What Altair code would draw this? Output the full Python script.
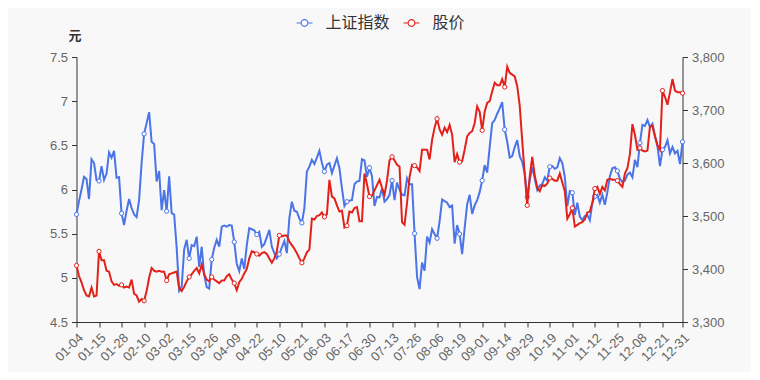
import altair as alt
import pandas as pd

BLUE = "#4a74e8"
RED = "#e2211b"
BG = "#f8f8f8"

series_names = ["上证指数", "股价"]

tick_labels = ["01-04", "01-15", "01-28", "02-10", "03-02", "03-15", "03-26", "04-09",
               "04-22", "05-10", "05-21", "06-03", "06-17", "06-30", "07-13", "07-26",
               "08-06", "08-19", "09-01", "09-14", "09-29", "10-19", "11-01", "11-12",
               "11-25", "12-08", "12-21", "12-31"]
tick_pos = [0, 9, 18, 27, 36, 45, 54, 63, 72, 81, 90, 99, 108, 117, 126, 135, 144,
            153, 162, 171, 180, 189, 198, 207, 216, 225, 234, 242]

sse = [
    3503, 3528, 3550, 3574, 3570, 3532, 3607, 3600, 3568, 3566,
    3594, 3568, 3580, 3620, 3610, 3623, 3572, 3573, 3505, 3483,
    3510, 3532, 3515, 3503, 3498, 3530, 3600, 3655, 3675, 3696,
    3640, 3636, 3565, 3585, 3511, 3549, 3509, 3575, 3505, 3503,
    3440, 3359, 3367, 3437, 3455, 3420, 3445, 3443, 3461, 3404,
    3442, 3389, 3366, 3363, 3418, 3440, 3455, 3442, 3480, 3482,
    3480, 3483, 3482, 3451, 3410, 3396, 3420, 3400, 3445, 3477,
    3475, 3473, 3465, 3470, 3442, 3447, 3460, 3474, 3442, 3430,
    3420, 3428, 3441, 3453, 3430, 3496, 3527, 3510, 3508, 3495,
    3487, 3515, 3584, 3593, 3606, 3598, 3610, 3623, 3600, 3584,
    3597, 3600, 3581, 3595, 3609, 3590, 3552, 3519, 3527, 3529,
    3530, 3560, 3565, 3566, 3607, 3605, 3574, 3591, 3575, 3519,
    3536, 3535, 3552, 3527, 3532, 3540, 3567, 3530, 3563, 3550,
    3540, 3539, 3571, 3560, 3560, 3467, 3385, 3362, 3412, 3397,
    3461, 3450, 3475, 3466, 3458, 3490, 3531, 3528, 3525, 3517,
    3520, 3448, 3483, 3466, 3428, 3477, 3522, 3540, 3504, 3520,
    3530, 3545, 3567, 3596, 3582, 3630, 3675, 3681, 3693, 3703,
    3715, 3663, 3640, 3610, 3613, 3630, 3643, 3613, 3602, 3580,
    3536, 3568, 3592, 3570, 3549, 3557, 3560, 3573, 3567, 3593,
    3594, 3589, 3592, 3609, 3600, 3574, 3518, 3547, 3544, 3502,
    3525, 3499, 3492, 3500, 3502, 3492, 3525, 3537, 3540, 3525,
    3540, 3521, 3545, 3575, 3590, 3592, 3585, 3570, 3564, 3567,
    3578, 3582, 3573, 3606, 3592, 3638, 3672, 3670, 3681, 3668,
    3674, 3652, 3632, 3594, 3625, 3630, 3643, 3618, 3630, 3618,
    3623, 3598, 3640,
]

price = [
    5.14, 5.02, 4.95, 4.86, 4.80, 4.79, 4.89, 4.79, 4.80, 5.30,
    5.20, 5.20, 5.08, 5.07, 4.96, 4.92, 4.93, 4.91, 4.92, 4.89,
    4.90, 4.89, 4.98, 4.82, 4.80, 4.73, 4.76, 4.74, 4.85, 5.00,
    5.11, 5.08, 5.07, 5.08, 5.07, 5.07, 4.97, 5.04, 5.05, 5.06,
    5.07, 4.88, 4.85, 4.90, 4.96, 5.01, 5.04, 5.08, 5.11, 5.05,
    5.15, 5.04, 4.98, 4.96, 5.01, 4.98, 4.96, 4.94, 4.97, 4.97,
    5.02, 5.04, 4.98, 4.94, 4.86, 4.95, 4.99, 5.05, 5.10, 5.22,
    5.30, 5.29, 5.27, 5.25, 5.28, 5.29, 5.27, 5.22, 5.17, 5.22,
    5.30, 5.48, 5.47, 5.48, 5.48, 5.41, 5.37, 5.33, 5.28, 5.22,
    5.17, 5.22, 5.29, 5.32, 5.67, 5.66, 5.70, 5.71, 5.74, 5.69,
    5.72, 6.11, 5.92, 5.90, 5.82, 5.75, 5.76, 5.57, 5.59, 5.75,
    5.74, 5.79, 5.80, 5.64, 5.64, 6.18, 6.06, 5.92, 5.93, 5.99,
    6.05, 6.11, 6.02, 5.94, 6.10, 6.33, 6.37, 6.33, 6.28, 6.26,
    5.63, 5.60, 5.85, 6.14, 6.28, 6.27, 6.25, 6.21, 6.45, 6.45,
    6.45, 6.34, 6.56, 6.70, 6.80, 6.68, 6.62, 6.70, 6.65, 6.73,
    6.62, 6.31, 6.40, 6.31, 6.32, 6.45, 6.60, 6.64, 6.66, 6.75,
    6.94, 6.88, 6.67, 6.88, 6.98, 7.00, 7.11, 7.21, 7.18, 7.18,
    7.25, 7.16, 7.39, 7.32, 7.30, 7.28, 7.17, 6.95, 6.55, 6.17,
    5.82, 6.15, 6.37, 6.16, 6.02, 5.98, 6.05, 6.04, 6.07, 6.13,
    6.12, 6.10, 6.10, 6.18, 6.08, 5.98, 5.67, 5.72, 5.79, 5.58,
    5.60, 5.62, 5.63, 5.66, 5.74, 5.75, 5.85, 6.01, 6.03, 5.95,
    6.03, 5.99, 6.11, 6.12, 6.11, 6.11, 6.10, 6.06, 6.03, 6.18,
    6.24, 6.40, 6.74, 6.62, 6.45, 6.47, 6.44, 6.43, 6.44, 6.71,
    6.72, 6.60, 6.50, 6.45, 7.12, 7.05, 6.96, 7.10, 7.25, 7.12,
    7.10, 7.10, 7.09,
]

left_ticks = [4.5, 5, 5.5, 6, 6.5, 7, 7.5]
right_ticks = [3300, 3400, 3500, 3600, 3700, 3800]

n = len(sse)
d_sse = pd.DataFrame({"idx": list(range(n)), "value": sse, "series": series_names[0]})
d_price = pd.DataFrame({"idx": list(range(len(price))), "value": price, "series": series_names[1]})

lab_expr = "[" + ",".join("'%s'" % s for s in tick_labels) + "][indexof([" + \
    ",".join(str(p) for p in tick_pos) + "], datum.value)]"

NUMFONT = "Liberation Sans"
CJK = "Noto Sans CJK SC"

x_enc = alt.X(
    "idx:Q",
    scale=alt.Scale(domain=[0, 242], nice=False, zero=False),
    axis=alt.Axis(values=tick_pos, labelExpr=lab_expr, labelAngle=315, title=None,
                  labelFont=NUMFONT, labelFontSize=13, labelColor="#666",
                  domainColor="#333", tickColor="#333", tickSize=5, grid=False,
                  labelPadding=4, labelOverlap=False, labelBound=False, labelFlush=False),
)

legend_path = "M-1,0L-0.42,0M0.42,0L1,0M0.42,0A0.42,0.42,0,1,1,-0.42,0A0.42,0.42,0,1,1,0.42,0"

color_enc = alt.Color(
    "series:N",
    scale=alt.Scale(domain=series_names, range=[BLUE, RED]),
    legend=alt.Legend(
        title=None, orient="none", direction="horizontal", legendX=219, legendY=-43,
        symbolType=legend_path, symbolSize=256, symbolStrokeWidth=1.2,
        symbolFillColor="transparent", labelFont=CJK, labelFontSize=16,
        labelColor="#333", labelOffset=12, columnPadding=10, padding=0,
        labelLimit=200,
    ),
)

y_right = alt.Y(
    "value:Q",
    scale=alt.Scale(domain=[3300, 3800], nice=False, zero=False),
    axis=alt.Axis(orient="right", values=right_ticks, format=",.0f", title=None,
                  labelFont=NUMFONT, labelFontSize=13, labelColor="#666",
                  domainColor="#333", tickColor="#333", tickSize=5, grid=False,
                  labelPadding=4),
)

y_left = alt.Y(
    "value:Q",
    scale=alt.Scale(domain=[4.5, 7.5], nice=False, zero=False),
    axis=alt.Axis(orient="left", values=left_ticks, format=".1~f", title="元",
                  titleAngle=0, titleX=-2, titleY=-22, titleAlign="center",
                  titleBaseline="middle", titleFont=CJK, titleFontSize=13,
                  titleFontWeight="bold", titleColor="#333",
                  labelFont=NUMFONT, labelFontSize=13, labelColor="#666",
                  domainColor="#333", tickColor="#333", tickSize=5, grid=False,
                  labelPadding=4),
)

marker_filter = alt.FieldOneOfPredicate(field="idx", oneOf=tick_pos)

sse_line = alt.Chart(d_sse).mark_line(strokeWidth=2).encode(x=x_enc, y=y_right, color=color_enc)
sse_pts = alt.Chart(d_sse).transform_filter(marker_filter).mark_point(
    filled=False, fill="#ffffff", fillOpacity=1, opacity=1, size=18, strokeWidth=1
).encode(x=x_enc, y=y_right, color=color_enc)

price_line = alt.Chart(d_price).mark_line(strokeWidth=2).encode(x=x_enc, y=y_left, color=color_enc)
price_pts = alt.Chart(d_price).transform_filter(marker_filter).mark_point(
    filled=False, fill="#ffffff", fillOpacity=1, opacity=1, size=18, strokeWidth=1
).encode(x=x_enc, y=y_left, color=color_enc)

chart = alt.layer(
    alt.layer(sse_line, sse_pts),
    alt.layer(price_line, price_pts),
).resolve_scale(y="independent", color="shared").properties(
    width=606, height=265,
    autosize=alt.AutoSizeParams(type="none"),
    padding={"left": 68.5, "top": 49, "right": 68, "bottom": 50},
    background=BG,
).configure_view(stroke=None)

chart.save("out.html", embed_options={"renderer": "svg", "actions": False})
